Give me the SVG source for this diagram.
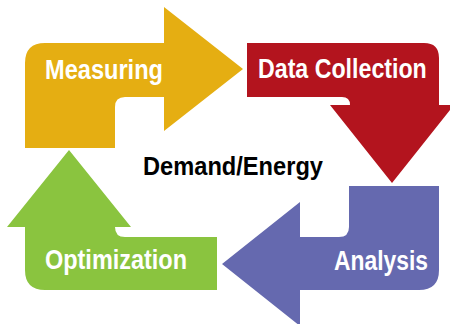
<svg xmlns="http://www.w3.org/2000/svg" width="450" height="324" viewBox="0 0 450 324">
<style>
.lbl{font-family:"Liberation Sans",Arial,sans-serif;font-weight:bold;font-size:28px;fill:#fff}
.ctr{font-family:"Liberation Sans",Arial,sans-serif;font-weight:bold;font-size:26px;fill:#000}
</style>
<rect width="450" height="324" fill="#fff"/>
<g id="connectors"/>
<g id="measuring">
<path d="M25,148 L25,63 Q25,43 45,43 L164,43 L164,7 L243,69 L164,131 L164,97 L125,97 Q115,97 115,107 L115,148 Z" fill="#E5AE12"/>
<text class="lbl" x="45" y="78.5" textLength="118" lengthAdjust="spacingAndGlyphs">Measuring</text>
</g>
<g id="data-collection">
<path d="M247,43 L424,43 Q439,43 439,58 L439,105 L454,105 L392,183 L330,105 L350,105 Q350,97 342,97 L247,97 Z" fill="#B3141E"/>
<text class="lbl" transform="translate(258,78) scale(0.8,1)" x="0" y="0" textLength="211" lengthAdjust="spacingAndGlyphs">Data Collection</text>
</g>
<g id="analysis">
<path d="M349,186 L439,186 L439,270 Q439,290 419,290 L300,290 L300,326 L222,264 L300,202 L300,237 L339,237 Q349,237 349,227 Z" fill="#6569AF"/>
<text class="lbl" x="334" y="270" textLength="94" lengthAdjust="spacingAndGlyphs">Analysis</text>
</g>
<g id="optimization">
<path d="M25,227 L7,227 L69,150 L131,227 L115,227 Q115,237 125,237 L217,237 L217,290 L45,290 Q25,290 25,270 Z" fill="#8AC43F"/>
<text class="lbl" x="45" y="269" textLength="142" lengthAdjust="spacingAndGlyphs">Optimization</text>
</g>
<g id="center">
<text class="ctr" x="143" y="175" textLength="180" lengthAdjust="spacingAndGlyphs">Demand/Energy</text>
</g>
</svg>
